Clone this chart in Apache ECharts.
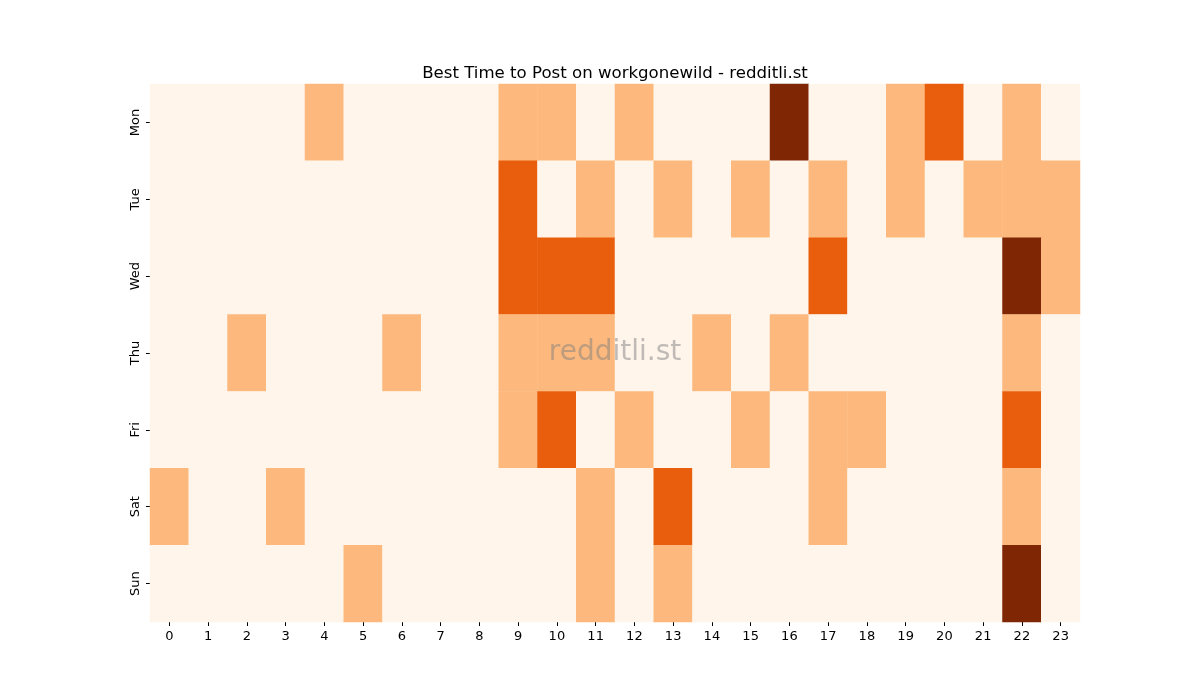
<!DOCTYPE html>
<html>
<head>
<meta charset="utf-8">
<script src="https://cdn.jsdelivr.net/npm/echarts@6/dist/echarts.min.js"></script>
<style>
  html, body { margin: 0; padding: 0; background: #fff; }
  #main { width: 1200px; height: 700px; }
</style>
</head>
<body>
<div id="main"></div>
<script>
var myChart = echarts.init(document.getElementById('main'));

const hours = ['0','1','2','3','4','5','6','7','8','9','10','11','12','13','14','15','16','17','18','19','20','21','22','23'];
const days = ['Mon', 'Tue', 'Wed', 'Thu', 'Fri', 'Sat', 'Sun'];

// one row per day, one value per hour
const mon = [0,0,0,0,1,0,0,0,0,1,1,0,1,0,0,0,3,0,0,1,2,0,1,0];
const tue = [0,0,0,0,0,0,0,0,0,2,0,1,0,1,0,1,0,1,0,1,0,1,1,1];
const wed = [0,0,0,0,0,0,0,0,0,2,2,2,0,0,0,0,0,2,0,0,0,0,3,1];
const thu = [0,0,1,0,0,0,1,0,0,1,1,1,0,0,1,0,1,0,0,0,0,0,1,0];
const fri = [0,0,0,0,0,0,0,0,0,1,2,0,1,0,0,1,0,1,1,0,0,0,2,0];
const sat = [1,0,0,1,0,0,0,0,0,0,0,1,0,2,0,0,0,1,0,0,0,0,1,0];
const sun = [0,0,0,0,0,1,0,0,0,0,0,1,0,1,0,0,0,0,0,0,0,0,3,0];

const rows = [mon, tue, wed, thu, fri, sat, sun];
const data = [];
rows.forEach(function (row, d) {
  row.forEach(function (v, h) {
    data.push([h, d, v]);
  });
});

const font = 'DejaVu Sans';

const option = {
  backgroundColor: '#fff',
  animation: false,
  title: {
    text: 'Best Time to Post on workgonewild - redditli.st',
    left: 610,
    top: 60,
    textAlign: 'center',
    textStyle: { fontFamily: font, fontSize: 16.6, fontWeight: 'normal', color: '#000' }
  },
  grid: { left: 150, right: 120, top: 84, bottom: 78 },
  xAxis: {
    type: 'category',
    data: hours,
    axisLine: { show: false },
    axisTick: { show: true, alignWithLabel: true, length: 4, lineStyle: { color: '#000' } },
    axisLabel: { fontFamily: font, fontSize: 13, color: '#000', margin: 8 },
    splitLine: { show: false }
  },
  yAxis: {
    type: 'category',
    data: days,
    inverse: true,
    axisLine: { show: false },
    axisTick: { show: true, alignWithLabel: true, length: 4, lineStyle: { color: '#000' } },
    axisLabel: { fontFamily: font, fontSize: 13, color: '#000', rotate: 90, margin: 8 },
    splitLine: { show: false }
  },
  visualMap: {
    show: false,
    type: 'piecewise',
    dimension: 2,
    pieces: [
      { value: 0, color: '#fff5eb' },
      { value: 1, color: '#fdb97d' },
      { value: 2, color: '#e95e0d' },
      { value: 3, color: '#7f2704' }
    ]
  },
  graphic: [{
    type: 'text',
    x: 615,
    y: 353,
    z: 100,
    style: {
      text: 'redditli.st',
      font: '28px "DejaVu Sans"',
      fill: 'rgba(128,128,128,0.5)',
      align: 'center',
      verticalAlign: 'middle'
    }
  }],
  series: [{
    type: 'heatmap',
    data: data,
    itemStyle: { borderWidth: 0 },
    emphasis: { disabled: true }
  }]
};

myChart.setOption(option);
</script>
</body>
</html>
